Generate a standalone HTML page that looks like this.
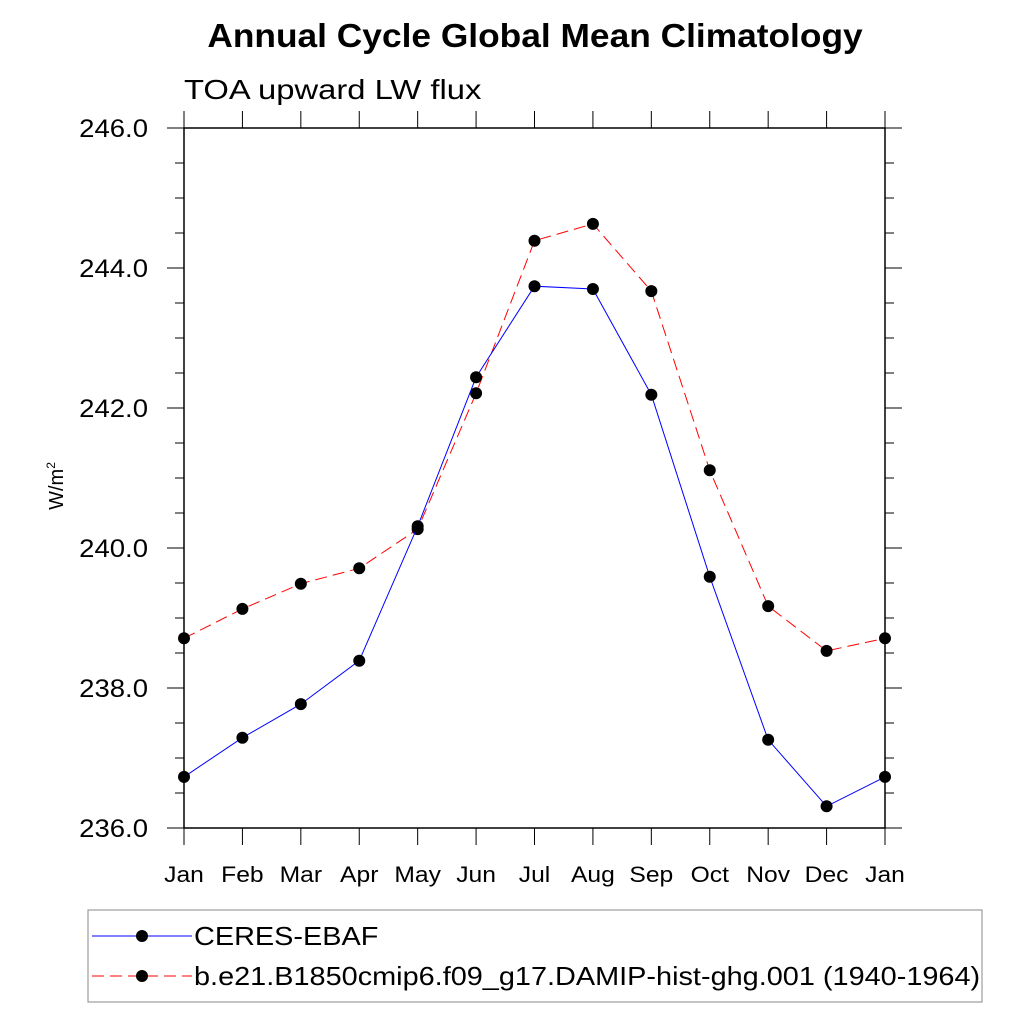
<!DOCTYPE html>
<html><head><meta charset="utf-8"><style>body{margin:0;background:#fff}svg{display:block}</style></head>
<body>
<svg id="c" width="1024" height="1024" xmlns="http://www.w3.org/2000/svg" font-family="Liberation Sans, sans-serif">
<text x="535" y="47" text-anchor="middle" font-size="33" font-weight="bold" data-sx="1.07">Annual Cycle Global Mean Climatology</text>
<text x="184" y="99" font-size="28" data-sx="1.17">TOA upward LW flux</text>
<text transform="translate(63,486) rotate(-90)" text-anchor="middle" font-size="20">W/m<tspan dy="-8" font-size="12">2</tspan></text>
<g id="ax"></g>
<g id="series"></g>
<rect x="88" y="910" width="894" height="92" fill="none" stroke="#888"/>
<g><line x1="92" y1="936" x2="192" y2="936" stroke="blue" stroke-width="1"/><circle cx="142" cy="936" r="6"/><text x="194" y="945" font-size="26" data-sx="1.11">CERES-EBAF</text></g>
<g><line x1="92" y1="976" x2="192" y2="976" stroke="red" stroke-width="1" stroke-dasharray="12,6"/><circle cx="142" cy="976" r="6"/><text x="194" y="985" font-size="26" data-sx="1.11">b.e21.B1850cmip6.f09_g17.DAMIP-hist-ghg.001 (1940-1964)</text></g>
</svg>
<script>
const months=["Jan","Feb","Mar","Apr","May","Jun","Jul","Aug","Sep","Oct","Nov","Dec","Jan"];
const ceres=[236.73,237.29,237.77,238.39,240.31,242.44,243.74,243.70,242.19,239.59,237.26,236.31,236.73];
const model=[238.71,239.13,239.49,239.71,240.27,242.21,244.39,244.63,243.67,241.11,239.17,238.53,238.71];
const yTicks=[236,238,240,242,244,246];
const NS="http://www.w3.org/2000/svg";
const L=184,R=885,T=128,B=828,yMin=236,yMax=246;
const xs=i=>L+(R-L)*i/12, ys=v=>B-(v-yMin)/(yMax-yMin)*(B-T);
function mk(t,a,p){const e=document.createElementNS(NS,t);for(const k in a)e.setAttribute(k,a[k]);p.appendChild(e);return e;}
const ax=document.getElementById('ax');
const frame=mk('rect',{x:L,y:T,width:R-L,height:B-T,fill:'none',stroke:'#000','stroke-width':1.5},ax);


months.forEach((m,i)=>{const x=xs(i);
 mk('line',{x1:x,y1:B,x2:x,y2:B+17,stroke:'#000'},ax);
 mk('line',{x1:x,y1:T,x2:x,y2:T-17,stroke:'#000'},ax);
 const t=mk('text',{x:x,y:882,'text-anchor':'middle','font-size':22,'data-sx':1.12},ax);t.textContent=m;
 
 
});
for(let v=yMin;v<=yMax+1e-9;v+=0.5){const y=ys(v);const maj=Math.abs(v%2)<1e-9;const len=maj?17:9;
 mk('line',{x1:L-len,y1:y,x2:L,y2:y,stroke:'#000'},ax);
 mk('line',{x1:R,y1:y,x2:R+len,y2:y,stroke:'#000'},ax);}
yTicks.forEach(v=>{const t=mk('text',{x:148,y:ys(v)+9,'text-anchor':'end','font-size':25,'data-sx':1.1},ax);t.textContent=v.toFixed(1);
 
 });
const sg=document.getElementById('series');
function draw(d,col,dash,name){const g=mk('g',{},sg);
 
 
 mk('polyline',{points:d.map((v,i)=>xs(i)+','+ys(v)).join(' '),fill:'none',stroke:col,'stroke-width':1,'stroke-dasharray':dash},g);
 d.forEach((v,i)=>{const c=mk('circle',{cx:xs(i),cy:ys(v),r:6,fill:'#000'},g);
  
  });}
draw(model,'red','12,6','series-model');
draw(ceres,'blue','none','series-ceres');
document.querySelectorAll('text[data-sx]').forEach(t=>{const w=t.getComputedTextLength()*parseFloat(t.getAttribute('data-sx'));t.setAttribute('textLength',w);t.setAttribute('lengthAdjust','spacingAndGlyphs');});
</script>
</body></html>
